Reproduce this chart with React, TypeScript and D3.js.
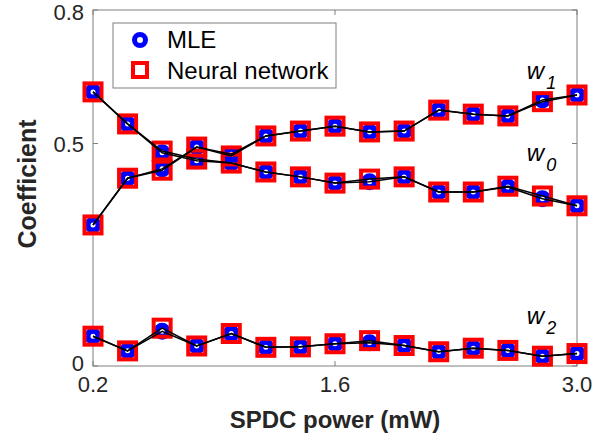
import React from "react";
import * as d3 from "d3";

// x values (SPDC power, mW)
const powers = [0.2, 0.4, 0.6, 0.8, 1.0, 1.2, 1.4, 1.6, 1.8, 2.0, 2.2, 2.4, 2.6, 2.8, 3.0];

// coefficients
const w0MLE = [0.616, 0.544, 0.479, 0.461, 0.456, 0.436, 0.425, 0.411, 0.414, 0.425, 0.391, 0.391, 0.402, 0.376, 0.36];
const w0NN = [0.616, 0.544, 0.483, 0.465, 0.456, 0.436, 0.425, 0.411, 0.42, 0.425, 0.391, 0.391, 0.404, 0.382, 0.36];
const w1MLE = [0.317, 0.422, 0.443, 0.492, 0.476, 0.517, 0.528, 0.539, 0.526, 0.528, 0.575, 0.566, 0.562, 0.598, 0.609];
const w1NN = [0.317, 0.422, 0.44, 0.492, 0.472, 0.517, 0.528, 0.539, 0.526, 0.528, 0.575, 0.566, 0.562, 0.594, 0.609];
const w2MLE = [0.067, 0.034, 0.078, 0.045, 0.073, 0.042, 0.043, 0.05, 0.052, 0.046, 0.032, 0.04, 0.035, 0.022, 0.028];
const w2NN = [0.067, 0.034, 0.085, 0.045, 0.073, 0.042, 0.043, 0.05, 0.057, 0.046, 0.032, 0.04, 0.035, 0.022, 0.028];

const xTicks = [0.2, 1.6, 3.0];
const yTicks = [0, 0.5, 0.8];
const labels = [
    {name: "1", x: 2.71, y: 0.645},
    {name: "0", x: 2.71, y: 0.46},
    {name: "2", x: 2.71, y: 0.095},
];

const width = 609;
const height = 442;
const margin = {top: 10, right: 32, bottom: 76, left: 93};

const App = () => {
    const x = d3.scaleLinear().domain([0.2, 3.0]).range([margin.left, width - margin.right]);
    const y = d3.scaleLinear().domain([0, 0.8]).range([height - margin.bottom, margin.top]);
    const line = d3.line<number>().x((d, i) => x(powers[i])).y(d => y(d));

    const mle = [w0MLE, w1MLE, w2MLE];
    const nn = [w0NN, w1NN, w2NN];
    const axisColor = "#7f7f7f";
    const textColor = "#262626";
    const font = "Liberation Sans, Arial, Helvetica, sans-serif";

    const [x0, x1] = x.range();
    const [yb, yt] = y.range();

    // nudge the end labels so "0" and "0.2" don't collide, like the original
    const yLabelShift = (t: number) => (t === 0.8 ? 10 : t === 0 ? 5 : 8);

    return (
        <svg width={width} height={height} style={{position: "absolute", left: 0, top: 0}}
             fontFamily={font}>
            <rect x={0} y={0} width={width} height={height} fill="white"/>

            {/* axes box */}
            <rect x={x0} y={yt} width={x1 - x0} height={yb - yt} fill="none" stroke={axisColor} strokeWidth={1}/>
            {xTicks.map(t => (
                <g key={"x" + t}>
                    <line x1={x(t)} x2={x(t)} y1={yb} y2={yb - 5} stroke={axisColor}/>
                    <line x1={x(t)} x2={x(t)} y1={yt} y2={yt + 5} stroke={axisColor}/>
                    <text x={x(t)} y={yb + 26} textAnchor="middle" fontSize={22} fill={textColor}>
                        {t.toFixed(1)}
                    </text>
                </g>
            ))}
            {yTicks.map(t => (
                <g key={"y" + t}>
                    <line x1={x0} x2={x0 + 5} y1={y(t)} y2={y(t)} stroke={axisColor}/>
                    <line x1={x1} x2={x1 - 5} y1={y(t)} y2={y(t)} stroke={axisColor}/>
                    <text x={x0 - 9} y={y(t) + yLabelShift(t)} textAnchor="end" fontSize={22} fill={textColor}>
                        {t === 0 ? "0" : String(t)}
                    </text>
                </g>
            ))}

            {/* markers */}
            {mle.map((s, k) => s.map((v, i) => (
                <circle key={"c" + k + "-" + i} cx={x(powers[i])} cy={y(v)} r={5.5} fill="white"
                        stroke="#0000ff" strokeWidth={6}/>
            )))}
            {nn.map((s, k) => s.map((v, i) => (
                <rect key={"s" + k + "-" + i} x={x(powers[i]) - 8.5} y={y(v) - 8.5} width={17} height={17}
                      fill="none" stroke="#ff0000" strokeWidth={4}/>
            )))}

            {/* lines */}
            {mle.concat(nn).map((s, k) => (
                <path key={"l" + k} d={line(s) || ""} fill="none" stroke="black" strokeWidth={1.5}/>
            ))}

            {/* series labels */}
            {labels.map(l => (
                <text key={l.name} x={x(l.x)} y={y(l.y)} fontSize={24} fontStyle="italic" fill="black">
                    w<tspan dx={2} dy={10} fontSize={18}>{l.name}</tspan>
                </text>
            ))}

            {/* legend */}
            <rect x={113} y={23} width={223} height={65} fill="white" stroke={axisColor}/>
            <circle cx={140} cy={40} r={5.5} fill="white" stroke="#0000ff" strokeWidth={5}/>
            <rect x={133} y={63} width={14} height={14} fill="none" stroke="#ff0000" strokeWidth={4}/>
            <text x={167} y={48} fontSize={24} fill="black">MLE</text>
            <text x={167} y={79} fontSize={24} fill="black">Neural network</text>

            {/* axis titles */}
            <text x={(x0 + x1) / 2} y={428} textAnchor="middle" fontSize={24} fontWeight="bold" fill={textColor}>
                SPDC power (mW)
            </text>
            <text transform={`translate(36, ${(yt + yb) / 2 - 4}) rotate(-90)`} textAnchor="middle" fontSize={25}
                  fontWeight="bold" fill={textColor}>
                Coefficient
            </text>
        </svg>
    );
};

export default App;
